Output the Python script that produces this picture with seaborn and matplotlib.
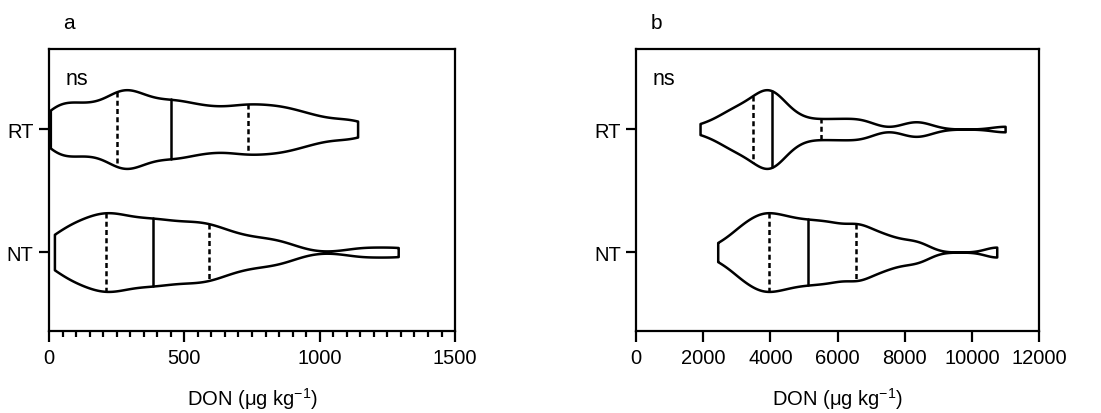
import numpy as np
import matplotlib
matplotlib.use('Agg')
import matplotlib.pyplot as plt
from matplotlib.ticker import MultipleLocator
import seaborn as sns

# DON concentrations (ug/kg), 40 samples per group
groups = ['RT', 'NT']

don_a_rt = [5, 22, 45, 72, 100, 128, 156, 185, 215, 245,
            253, 269, 285, 302, 320, 340, 362, 386, 412, 440,
            462, 484, 510, 540, 570, 600, 635, 668, 700, 728,
            755, 785, 815, 845, 875, 910, 950, 1000, 1070, 1140]
don_a_nt = [20, 40, 62, 85, 108, 130, 150, 170, 188, 200,
            212, 226, 242, 258, 275, 295, 318, 342, 368, 378,
            392, 412, 435, 458, 480, 505, 528, 550, 570, 586,
            605, 632, 665, 700, 740, 790, 835, 880, 1160, 1290]
don_b_rt = [1906, 2374, 2560, 2707, 2861, 2976, 3075, 3167, 3277, 3400,
            3500, 3580, 3660, 3730, 3800, 3860, 3915, 3965, 4005, 4035,
            4050, 4120, 4190, 4280, 4390, 4520, 4680, 4880, 5150, 5460,
            5700, 5950, 6230, 6480, 6720, 6920, 8100, 8330, 8600, 10990]
don_b_nt = [2432, 2827, 3030, 3174, 3289, 3463, 3572, 3672, 3767, 3862,
            3986, 4084, 4192, 4304, 4430, 4533, 4659, 4790, 4924, 5059,
            5178, 5314, 5450, 5589, 5730, 5855, 5994, 6160, 6330, 6540,
            6600, 6714, 6890, 7122, 7290, 7534, 7836, 8198, 8526, 10741]

sns.set_style('ticks')
plt.rcParams['font.family'] = ['Liberation Sans', 'DejaVu Sans']
plt.rcParams['mathtext.default'] = 'regular'
for key in ['text.color', 'axes.labelcolor', 'xtick.color', 'ytick.color']:
    plt.rcParams[key] = 'black'


def draw_violin(ax, values, label, bw):
    # bw is the kernel bandwidth in data units
    n0 = len(ax.lines)
    sns.violinplot(x=values, y=[label] * len(values), order=groups, orient='h',
                   color='white', linecolor='black', linewidth=1.8, saturation=1,
                   inner='quart', cut=0, width=0.64, density_norm='width',
                   bw_method=bw / np.std(values, ddof=1), gridsize=400, ax=ax)
    for i, ln in enumerate(ax.lines[n0:]):
        if i % 3 == 1:
            ln.set_linestyle('-')   # median
        else:
            ln.set_linestyle((0, (2.0, 1.3)))  # quartiles


fig = plt.figure(figsize=(11.01, 4.14), dpi=100)
ax_a = fig.add_axes([0.0445, 0.198, 0.3688, 0.681])
ax_b = fig.add_axes([0.5777, 0.198, 0.366, 0.681])

draw_violin(ax_a, don_a_rt, 'RT', 55)
draw_violin(ax_a, don_a_nt, 'NT', 70)
draw_violin(ax_b, don_b_rt, 'RT', 400)
draw_violin(ax_b, don_b_nt, 'NT', 350)

ax_a.set_xlim(0, 1500)
ax_a.xaxis.set_major_locator(MultipleLocator(500))
ax_a.xaxis.set_minor_locator(MultipleLocator(50))
ax_b.set_xlim(0, 12000)
ax_b.xaxis.set_major_locator(MultipleLocator(2000))

for ax, letter in [(ax_a, 'a'), (ax_b, 'b')]:
    ax.set_ylim(1.642, -0.65)
    ax.set_ylabel('')
    ax.set_xlabel('DON (μg kg$^{-1}$)', fontsize=14.5, labelpad=13)
    for sp in ax.spines.values():
        sp.set_visible(True)
        sp.set_linewidth(1.6)
        sp.set_color('black')
    ax.tick_params(axis='both', which='major', direction='out', length=8,
                   width=1.6, labelsize=14.5, color='black', pad=4)
    ax.tick_params(axis='y', length=7)
    ax.tick_params(axis='x', which='minor', direction='out', length=4.5, width=1.6)
    ax.text(0.042, 0.894, 'ns', transform=ax.transAxes, ha='left', va='center',
            fontsize=15.5)
    pos = ax.get_position()
    fig.text(pos.x0 + 0.013, 0.944, letter, ha='left', va='center', fontsize=15)

fig.savefig('out.png', dpi=100)
